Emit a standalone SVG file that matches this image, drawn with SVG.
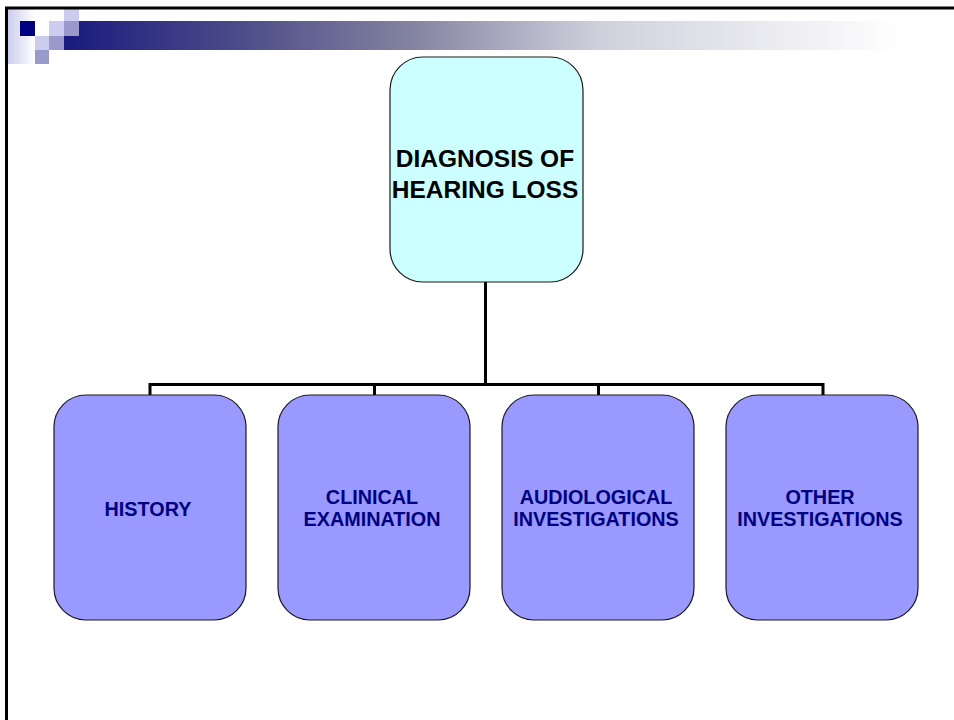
<svg xmlns="http://www.w3.org/2000/svg" width="954" height="720" viewBox="0 0 954 720">
  <defs>
    <linearGradient id="bar" x1="64" y1="0" x2="954" y2="0" gradientUnits="userSpaceOnUse">
      <stop offset="0" stop-color="#1a1a80"/>
      <stop offset="0.19" stop-color="#4a4a88"/>
      <stop offset="0.38" stop-color="#80809f"/>
      <stop offset="0.6" stop-color="#cfd0dc"/>
      <stop offset="0.94" stop-color="#ffffff"/>
    </linearGradient>
    <linearGradient id="fade" x1="0" y1="0" x2="1" y2="0">
      <stop offset="0" stop-color="#ccccee"/>
      <stop offset="1" stop-color="#ffffff"/>
    </linearGradient>
  </defs>
  <style>
    .frame { stroke: #000; stroke-width: 3; fill: none; }
    .light { fill: #ccccee; }
    .mid { fill: #9999cc; }
    .navy { fill: #000080; }
    .root { fill: #ccffff; stroke: #1a1a1a; stroke-width: 1.2; }
    .leaf { fill: #9999ff; stroke: #1a1a1a; stroke-width: 1.2; }
    .rootText { font-family: "Liberation Sans", Arial, sans-serif; font-weight: bold; font-size: 24.5px; fill: #000; text-anchor: middle; }
    .leafText { font-family: "Liberation Sans", Arial, sans-serif; font-weight: bold; font-size: 19.8px; fill: #000080; text-anchor: middle; }
    .link { stroke: #000; stroke-width: 3; fill: none; }
  </style>

  <rect width="954" height="720" fill="#ffffff"/>

  <!-- slide header decoration -->
  <g id="header">
    <rect x="8" y="9" width="27" height="55" fill="url(#fade)"/>
    <rect x="64" y="21" width="890" height="29" fill="url(#bar)"/>
    <rect class="light" x="64" y="9" width="15" height="12"/>
    <rect class="navy" x="20" y="21" width="15" height="15"/>
    <rect class="light" x="49" y="21" width="15" height="15"/>
    <rect class="mid" x="64" y="21" width="15" height="15"/>
    <rect class="light" x="35" y="36" width="14" height="14"/>
    <rect class="mid" x="49" y="36" width="15" height="14"/>
    <rect class="mid" x="35" y="50" width="14" height="14"/>
    <path class="frame" d="M6.5 720 V8 H954"/>
  </g>

  <!-- connectors -->
  <g id="connectors">
    <path class="link" d="M485.5 282 V384.5"/>
    <path class="link" d="M150 395 V384.5 H823 V395"/>
    <path class="link" d="M374.5 384.5 V395"/>
    <path class="link" d="M598.5 384.5 V395"/>
  </g>

  <g id="root">
    <rect class="root" x="390" y="57" width="193" height="225" rx="33" ry="33"/>
    <text class="rootText" x="485" y="166.5">DIAGNOSIS OF</text>
    <text class="rootText" x="485" y="198">HEARING LOSS</text>
  </g>

  <g id="history">
    <rect class="leaf" x="54" y="395" width="192" height="225" rx="32" ry="32"/>
    <text class="leafText" x="148" y="515.5">HISTORY</text>
  </g>

  <g id="clinical">
    <rect class="leaf" x="278" y="395" width="192" height="225" rx="32" ry="32"/>
    <text class="leafText" x="372" y="503.5">CLINICAL</text>
    <text class="leafText" x="372" y="526">EXAMINATION</text>
  </g>

  <g id="audiological">
    <rect class="leaf" x="502" y="395" width="192" height="225" rx="32" ry="32"/>
    <text class="leafText" x="596" y="503.5">AUDIOLOGICAL</text>
    <text class="leafText" x="596" y="526">INVESTIGATIONS</text>
  </g>

  <g id="other">
    <rect class="leaf" x="726" y="395" width="192" height="225" rx="32" ry="32"/>
    <text class="leafText" x="820" y="503.5">OTHER</text>
    <text class="leafText" x="820" y="526">INVESTIGATIONS</text>
  </g>
</svg>
